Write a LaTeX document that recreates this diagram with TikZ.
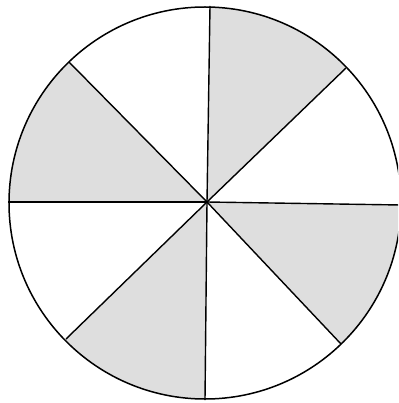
\documentclass[tikz,border=0pt]{standalone}
\usetikzlibrary{calc}
\begin{document}
\begin{tikzpicture}[x=1pt,y=-1pt,
  rim/.style={line width=1.5pt},
  spoke/.style={line width=1.4pt},
  shade/.style={fill=black!13}]
\useasboundingbox (0,0) rectangle (398,403);
\clip (0,0) rectangle (398,403);
\coordinate (o) at (205,203);
\coordinate (c) at (207,202);
\coordinate (pN) at (210,6);
\coordinate (pNE) at (346,68);
\coordinate (pE) at (401,205);
\coordinate (pSE) at (341,344);
\coordinate (pS) at (205,400);
\coordinate (pSW) at (66,339);
\coordinate (pW) at (8,202);
\coordinate (pNW) at (69,62);
\begin{scope}
  \clip (o) circle[radius=196];
  \fill[shade] (c) -- ($(c)!1.8!(pN)$) -- ($(c)!1.8!(pNE)$) -- cycle;
  \fill[shade] (c) -- ($(c)!1.8!(pNW)$) -- ($(c)!1.8!(pW)$) -- cycle;
  \fill[shade] (c) -- ($(c)!1.8!(pE)$) -- ($(c)!1.8!(pSE)$) -- cycle;
  \fill[shade] (c) -- ($(c)!1.8!(pSW)$) -- ($(c)!1.8!(pS)$) -- cycle;
\end{scope}
\foreach \p in {pN,pNE,pE,pSE,pS,pSW,pW,pNW}
  \draw[spoke] (c) -- (\p);
\draw[rim] (o) circle[radius=196];
\end{tikzpicture}
\end{document}
